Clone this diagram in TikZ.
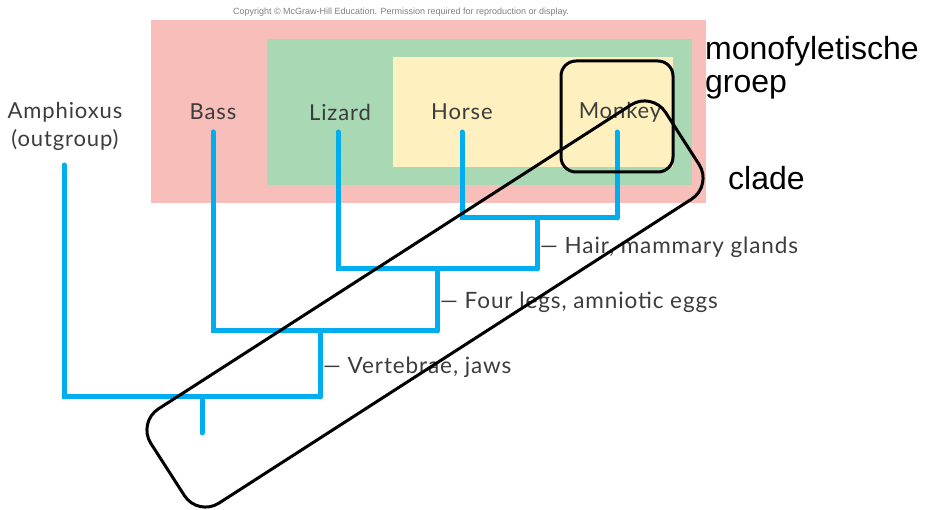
\documentclass[tikz,border=0pt]{standalone}
\usepackage{fontspec}
\setmainfont{Lato}
\newfontfamily\labelfont[LetterSpace=4]{Lato}
\newfontfamily\arialfont{Liberation Sans}
\definecolor{outerpink}{HTML}{F7BEBA}
\definecolor{midgreen}{HTML}{A8D8B4}
\definecolor{inneryellow}{HTML}{FFF0C0}
\definecolor{treeblue}{HTML}{00AEEF}
\definecolor{labelgrey}{HTML}{3C3C3C}
\begin{document}
\begin{tikzpicture}[x=1pt,y=-1pt]
		\tikzset{taxon/.style = {text=labelgrey, font=\labelfont\fontsize{22}{28}\selectfont, align=center, inner sep=0pt}}
		\tikzset{trait/.style = {text=labelgrey, font=\labelfont\fontsize{22.5}{26}\selectfont, anchor=west, inner sep=0pt}}
		\tikzset{branch/.style = {draw=treeblue, line width=5pt, line cap=round}}
		\tikzset{note/.style = {font=\arialfont\fontsize{32}{33}\selectfont, anchor=base west, align=left, inner sep=0pt}}
		\tikzset{ring/.style = {draw, line width=3pt}}
		\useasboundingbox (0,0) rectangle (927,510);
		% Nested groups
		\fill[outerpink] (151,20) rectangle (706,203);
		\fill[midgreen] (267,39) rectangle (692,185);
		\fill[inneryellow] (393,57) rectangle (673,167);
		\node[font=\arialfont\fontsize{9}{10}\selectfont, text=gray] (copy) at (401,12) {Copyright © McGraw-Hill Education. Permission required for reproduction or display.};
		% Taxa
		\node[taxon] (amph) at (65,126) {Amphioxus\\(outgroup)};
		\node[taxon] (bass) at (213,112) {Bass};
		\node[taxon] (lizard) at (340,112) {Lizard};
		\node[taxon] (horse) at (462,112) {Horse};
		\node[taxon] (monkey) at (620,112) {Monkey};
		% Tips and branch points
		\coordinate (amphtip) at (64,165);
		\coordinate (basstip) at (213,132);
		\coordinate (liztip) at (338,132);
		\coordinate (horsetip) at (462,132);
		\coordinate (monktip) at (617,132);
		\coordinate (root) at (202,433);
		\coordinate (n1) at (320,397);
		\coordinate (n2) at (437,331);
		\coordinate (n3) at (537,269);
		\coordinate (n4) at (617,218);
		% Draw tree
		\draw[branch] (amphtip) |- (n1);
		\draw[branch] (basstip) |- (n2);
		\draw[branch] (liztip) |- (n3);
		\draw[branch] (horsetip) |- (n4);
		\draw[branch] (monktip) -- (n4);
		\draw[branch] (root) -- (root |- n1);
		\draw[branch] (n1) -- (n1 |- n2);
		\draw[branch] (n2) -- (n2 |- n3);
		\draw[branch] (n3) -- (n3 |- n4);
		% Traits
		\node[trait] (hair) at (540,247) {— Hair, mammary glands};
		\node[trait] (legs) at (440,302) {— Four legs, amniotic eggs};
		\node[trait] (jaws) at (323,367) {— Vertebrae, jaws};
		% Outlines
		\node[ring, rounded corners=15pt, minimum width=112pt, minimum height=111pt] (groupbox) at (617,116.5) {};
		\node[ring, rounded corners=25pt, minimum width=612pt, minimum height=112pt, rotate=32.75] (cladebox) at (425,304) {};
		\node[note] (mono) at (705,93) {monofyletische\\groep};
		\node[note] (clade) at (728,190) {clade};
	\end{tikzpicture}
\end{document}
